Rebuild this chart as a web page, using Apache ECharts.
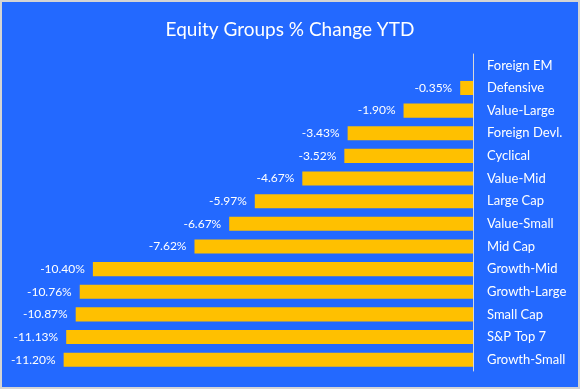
<!DOCTYPE html>
<html>
<head>
<meta charset="utf-8">
<script src="https://cdn.jsdelivr.net/npm/echarts@6/dist/echarts.min.js"></script>
<style>
html,body{margin:0;padding:0;background:#ffffff;}
#c{position:absolute;left:0;top:0;width:576px;height:385px;border:2px solid #D4D4D4;background:#2369FF;}
</style>
</head>
<body>
<div id="c"></div>
<script>
var categories = ['Foreign EM','Defensive','Value-Large','Foreign Devl.','Cyclical','Value-Mid','Large Cap','Value-Small','Mid Cap','Growth-Mid','Growth-Large','Small Cap','S&P Top 7','Growth-Small'];
var values = [0, -0.35, -1.90, -3.43, -3.52, -4.67, -5.97, -6.67, -7.62, -10.40, -10.76, -10.87, -11.13, -11.20];
var titleText = 'Equity Groups % Change YTD';

var chart = echarts.init(document.getElementById('c'));
chart.setOption({
  backgroundColor: '#2369FF',
  animation: false,
  title: {
    text: titleText,
    left: 'center',
    top: 13,
    textStyle: {color: '#ffffff', fontFamily: 'Lato', fontSize: 19, fontWeight: 'normal'}
  },
  grid: {left: 32.4, right: 105, top: 52, bottom: 16, containLabel: false},
  xAxis: {
    type: 'value', min: -12, max: 0,
    show: false
  },
  yAxis: {
    type: 'category',
    data: categories,
    inverse: true,
    position: 'right',
    axisLine: {show: true, lineStyle: {color: '#D9D9D9', width: 1}},
    axisTick: {show: false},
    axisLabel: {color: '#ffffff', fontFamily: 'Lato', fontSize: 13, margin: 14, align: 'left'},
    splitLine: {show: false}
  },
  series: [{
    type: 'bar',
    data: values,
    barWidth: '62%',
    itemStyle: {color: '#FFC000'},
    label: {
      show: true,
      position: 'left',
      distance: 8,
      color: '#ffffff',
      fontFamily: 'Lato',
      fontSize: 12,
      formatter: function(p){ return p.value === 0 ? '' : p.value.toFixed(2) + '%'; }
    }
  }]
});
</script>
</body>
</html>
